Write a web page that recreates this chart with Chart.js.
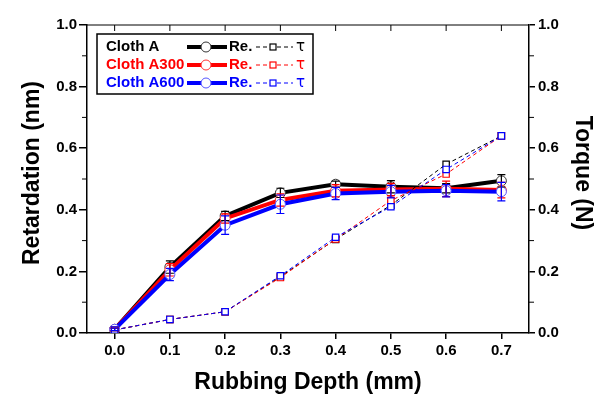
<!DOCTYPE html>
<html>
<head>
<meta charset="utf-8">
<script src="https://cdn.jsdelivr.net/npm/chart.js@4/dist/chart.umd.min.js"></script>
<style>
  html, body { margin: 0; padding: 0; background: #fff; }
  #wrap { width: 608px; height: 408px; }
</style>
</head>
<body>
<div id="wrap"><canvas id="myChart" width="608" height="408"></canvas></div>
<script>
// rubbing depth (mm)
const depth = [0.0, 0.1, 0.2, 0.3, 0.4, 0.5, 0.6, 0.7]
const xTicks = [0.0, 0.1, 0.2, 0.3, 0.4, 0.5, 0.6, 0.7]
const yTicks = [0.0, 0.2, 0.4, 0.6, 0.8, 1.0]
const yMinorTicks = [0.1, 0.3, 0.5, 0.7, 0.9]

// retardation (nm) and error bars
const retA    = [0.012, 0.214, 0.380, 0.455, 0.483, 0.475, 0.470, 0.494]
const retA300 = [0.012, 0.205, 0.372, 0.432, 0.462, 0.466, 0.468, 0.464]
const retA600 = [0.012, 0.190, 0.350, 0.418, 0.453, 0.459, 0.462, 0.459]
const errA    = [0.004, 0.020, 0.015, 0.015, 0.010, 0.020, 0.015, 0.020]
const errA300 = [0.004, 0.020, 0.015, 0.020, 0.020, 0.020, 0.025, 0.025]
const errA600 = [0.004, 0.020, 0.030, 0.030, 0.020, 0.020, 0.020, 0.030]

// torque (N)
const torqueA    = [0.010, 0.044, 0.069, 0.183, 0.304, 0.415, 0.548, 0.640]
const torqueA300 = [0.010, 0.044, 0.069, 0.180, 0.305, 0.430, 0.516, 0.640]
const torqueA600 = [0.010, 0.044, 0.069, 0.186, 0.311, 0.410, 0.531, 0.640]

const seriesNames = ['Cloth A', 'Cloth A300', 'Cloth A600']
const seriesColors = ['#000000', '#ff0000', '#0000ff']
const circleColors = ['#333333', '#ff3333', '#5555ff']

const toPoints = (vals) => vals.map((v, i) => ({x: depth[i], y: v}))

const retDataset = (vals, errs, k) => ({
    label: seriesNames[k] + ' Re.',
    data: toPoints(vals),
    errors: errs,
    yAxisID: 'y',
    borderColor: seriesColors[k],
    borderWidth: 4,
    pointStyle: 'circle',
    pointRadius: 5,
    pointBorderWidth: 1,
    pointBorderColor: circleColors[k],
    pointBackgroundColor: '#ffffff',
    order: 10 - k
})

const torqueDataset = (vals, k) => ({
    label: seriesNames[k] + ' τ',
    data: toPoints(vals),
    yAxisID: 'y1',
    borderColor: seriesColors[k],
    borderWidth: 1,
    borderDash: [4, 3],
    pointStyle: 'rect',
    pointRadius: 4.5,
    pointBorderWidth: 1.2,
    pointBorderColor: seriesColors[k],
    pointBackgroundColor: '#ffffff',
    order: 5 - k
})

const errorBars = {
    id: 'errorBars',
    afterDatasetsDraw(chart){
        const ctx = chart.ctx
        const yScale = chart.scales.y
        chart.data.datasets.forEach((ds, di) => {
            if(!ds.errors) return
            const meta = chart.getDatasetMeta(di)
            ctx.save()
            ctx.strokeStyle = ds.borderColor
            ctx.lineWidth = 1.2
            meta.data.forEach((pt, i) => {
                const v = ds.data[i].y
                const e = ds.errors[i]
                const top = yScale.getPixelForValue(v + e)
                const bot = yScale.getPixelForValue(v - e)
                ctx.beginPath()
                ctx.moveTo(pt.x, top); ctx.lineTo(pt.x, bot)
                ctx.moveTo(pt.x - 4, top); ctx.lineTo(pt.x + 4, top)
                ctx.moveTo(pt.x - 4, bot); ctx.lineTo(pt.x + 4, bot)
                ctx.stroke()
            })
            ctx.restore()
        })
    }
}

const frameAndText = {
    id: 'frameAndText',
    afterDraw(chart){
        const ctx = chart.ctx
        const area = chart.chartArea
        const x = chart.scales.x
        const y = chart.scales.y
        ctx.save()
        ctx.strokeStyle = '#000'
        ctx.lineWidth = 1.5
        // top border + inward ticks
        ctx.beginPath()
        ctx.moveTo(area.left, area.top); ctx.lineTo(area.right, area.top)
        xTicks.forEach(v => {
            const px = x.getPixelForValue(v)
            ctx.moveTo(px, area.top); ctx.lineTo(px, area.top + 6)
        })
        // minor y ticks, both sides
        ctx.lineWidth = 1
        yMinorTicks.forEach(v => {
            const py = y.getPixelForValue(v)
            ctx.moveTo(area.left - 5, py); ctx.lineTo(area.left, py)
            ctx.moveTo(area.right, py); ctx.lineTo(area.right + 5, py)
        })
        ctx.stroke()

        // axis titles
        ctx.fillStyle = '#000'
        ctx.font = 'bold 23px Arial'
        ctx.textAlign = 'center'
        ctx.textBaseline = 'alphabetic'
        ctx.fillText('Rubbing Depth (mm)', 308, 389)

        ctx.textBaseline = 'middle'
        ctx.save()
        ctx.translate(33, 173)
        ctx.rotate(-Math.PI / 2)
        ctx.fillText('Retardation (nm)', 0, 0)
        ctx.restore()

        ctx.save()
        ctx.translate(582, 173)
        ctx.rotate(Math.PI / 2)
        ctx.fillText('Torque (N)', 0, 0)
        ctx.restore()

        // legend box
        ctx.lineWidth = 1.5
        ctx.strokeRect(97, 34, 216, 60)
        const rows = [47, 65, 83]
        ctx.textAlign = 'left'
        ctx.font = 'bold 15px Arial'
        rows.forEach((ry, k) => {
            const c = seriesColors[k]
            ctx.fillStyle = c
            ctx.fillText(seriesNames[k], 106, ry)
            // thick line + circle
            ctx.strokeStyle = c
            ctx.lineWidth = 4
            ctx.setLineDash([])
            ctx.beginPath()
            ctx.moveTo(187, ry); ctx.lineTo(227, ry)
            ctx.stroke()
            ctx.beginPath()
            ctx.arc(206, ry, 5, 0, Math.PI * 2)
            ctx.fillStyle = '#fff'
            ctx.fill()
            ctx.lineWidth = 1
            ctx.strokeStyle = circleColors[k]
            ctx.stroke()
            ctx.fillStyle = c
            ctx.fillText('Re.', 229, ry)
            // dashed line + square
            ctx.strokeStyle = c
            ctx.lineWidth = 1
            ctx.setLineDash([4, 3])
            ctx.beginPath()
            ctx.moveTo(256, ry); ctx.lineTo(293, ry)
            ctx.stroke()
            ctx.setLineDash([])
            ctx.fillStyle = '#fff'
            ctx.fillRect(270, ry - 3, 6, 6)
            ctx.lineWidth = 1.2
            ctx.strokeRect(270, ry - 3, 6, 6)
            ctx.fillStyle = c
            ctx.font = '15px "DejaVu Sans"'
            ctx.fillText('τ', 296, ry)
            ctx.font = 'bold 15px Arial'
        })
        ctx.restore()
    }
}

const tickFont = {family: 'Arial', size: 15, weight: 'bold'}
const axisGrid = (len) => ({display: true, drawOnChartArea: false, drawTicks: true, tickLength: len, color: '#000', lineWidth: 1.5})

new Chart(document.getElementById('myChart').getContext('2d'), {
    type: 'line',
    data: {
        datasets: [
            retDataset(retA, errA, 0),
            retDataset(retA300, errA300, 1),
            retDataset(retA600, errA600, 2),
            torqueDataset(torqueA, 0),
            torqueDataset(torqueA300, 1),
            torqueDataset(torqueA600, 2)
        ]
    },
    options: {
        responsive: false,
        animation: false,
        layout: {padding: {top: 25, left: 0, right: 0, bottom: 0}},
        plugins: {legend: {display: false}, tooltip: {enabled: false}},
        scales: {
            x: {
                type: 'linear', position: 'bottom', min: -0.05, max: 0.75,
                afterBuildTicks: (s) => { s.ticks = xTicks.map(v => ({value: v})) },
                afterFit: (s) => { s.height = 75 },
                grid: axisGrid(6),
                border: {color: '#000', width: 1.5},
                ticks: {color: '#000', font: tickFont, padding: 3, callback: (v) => v.toFixed(1)}
            },
            y: {
                type: 'linear', position: 'left', min: 0, max: 1,
                afterBuildTicks: (s) => { s.ticks = yTicks.map(v => ({value: v})) },
                afterFit: (s) => { s.width = 87 },
                grid: axisGrid(8),
                border: {color: '#000', width: 1.5},
                ticks: {color: '#000', font: tickFont, padding: 2, callback: (v) => v.toFixed(1)}
            },
            y1: {
                type: 'linear', position: 'right', min: 0, max: 1,
                afterBuildTicks: (s) => { s.ticks = yTicks.map(v => ({value: v})) },
                afterFit: (s) => { s.width = 79 },
                grid: axisGrid(6),
                border: {color: '#000', width: 1.5},
                ticks: {color: '#000', font: tickFont, padding: 3, callback: (v) => v.toFixed(1)}
            }
        }
    },
    plugins: [errorBars, frameAndText]
})
</script>
</body>
</html>
